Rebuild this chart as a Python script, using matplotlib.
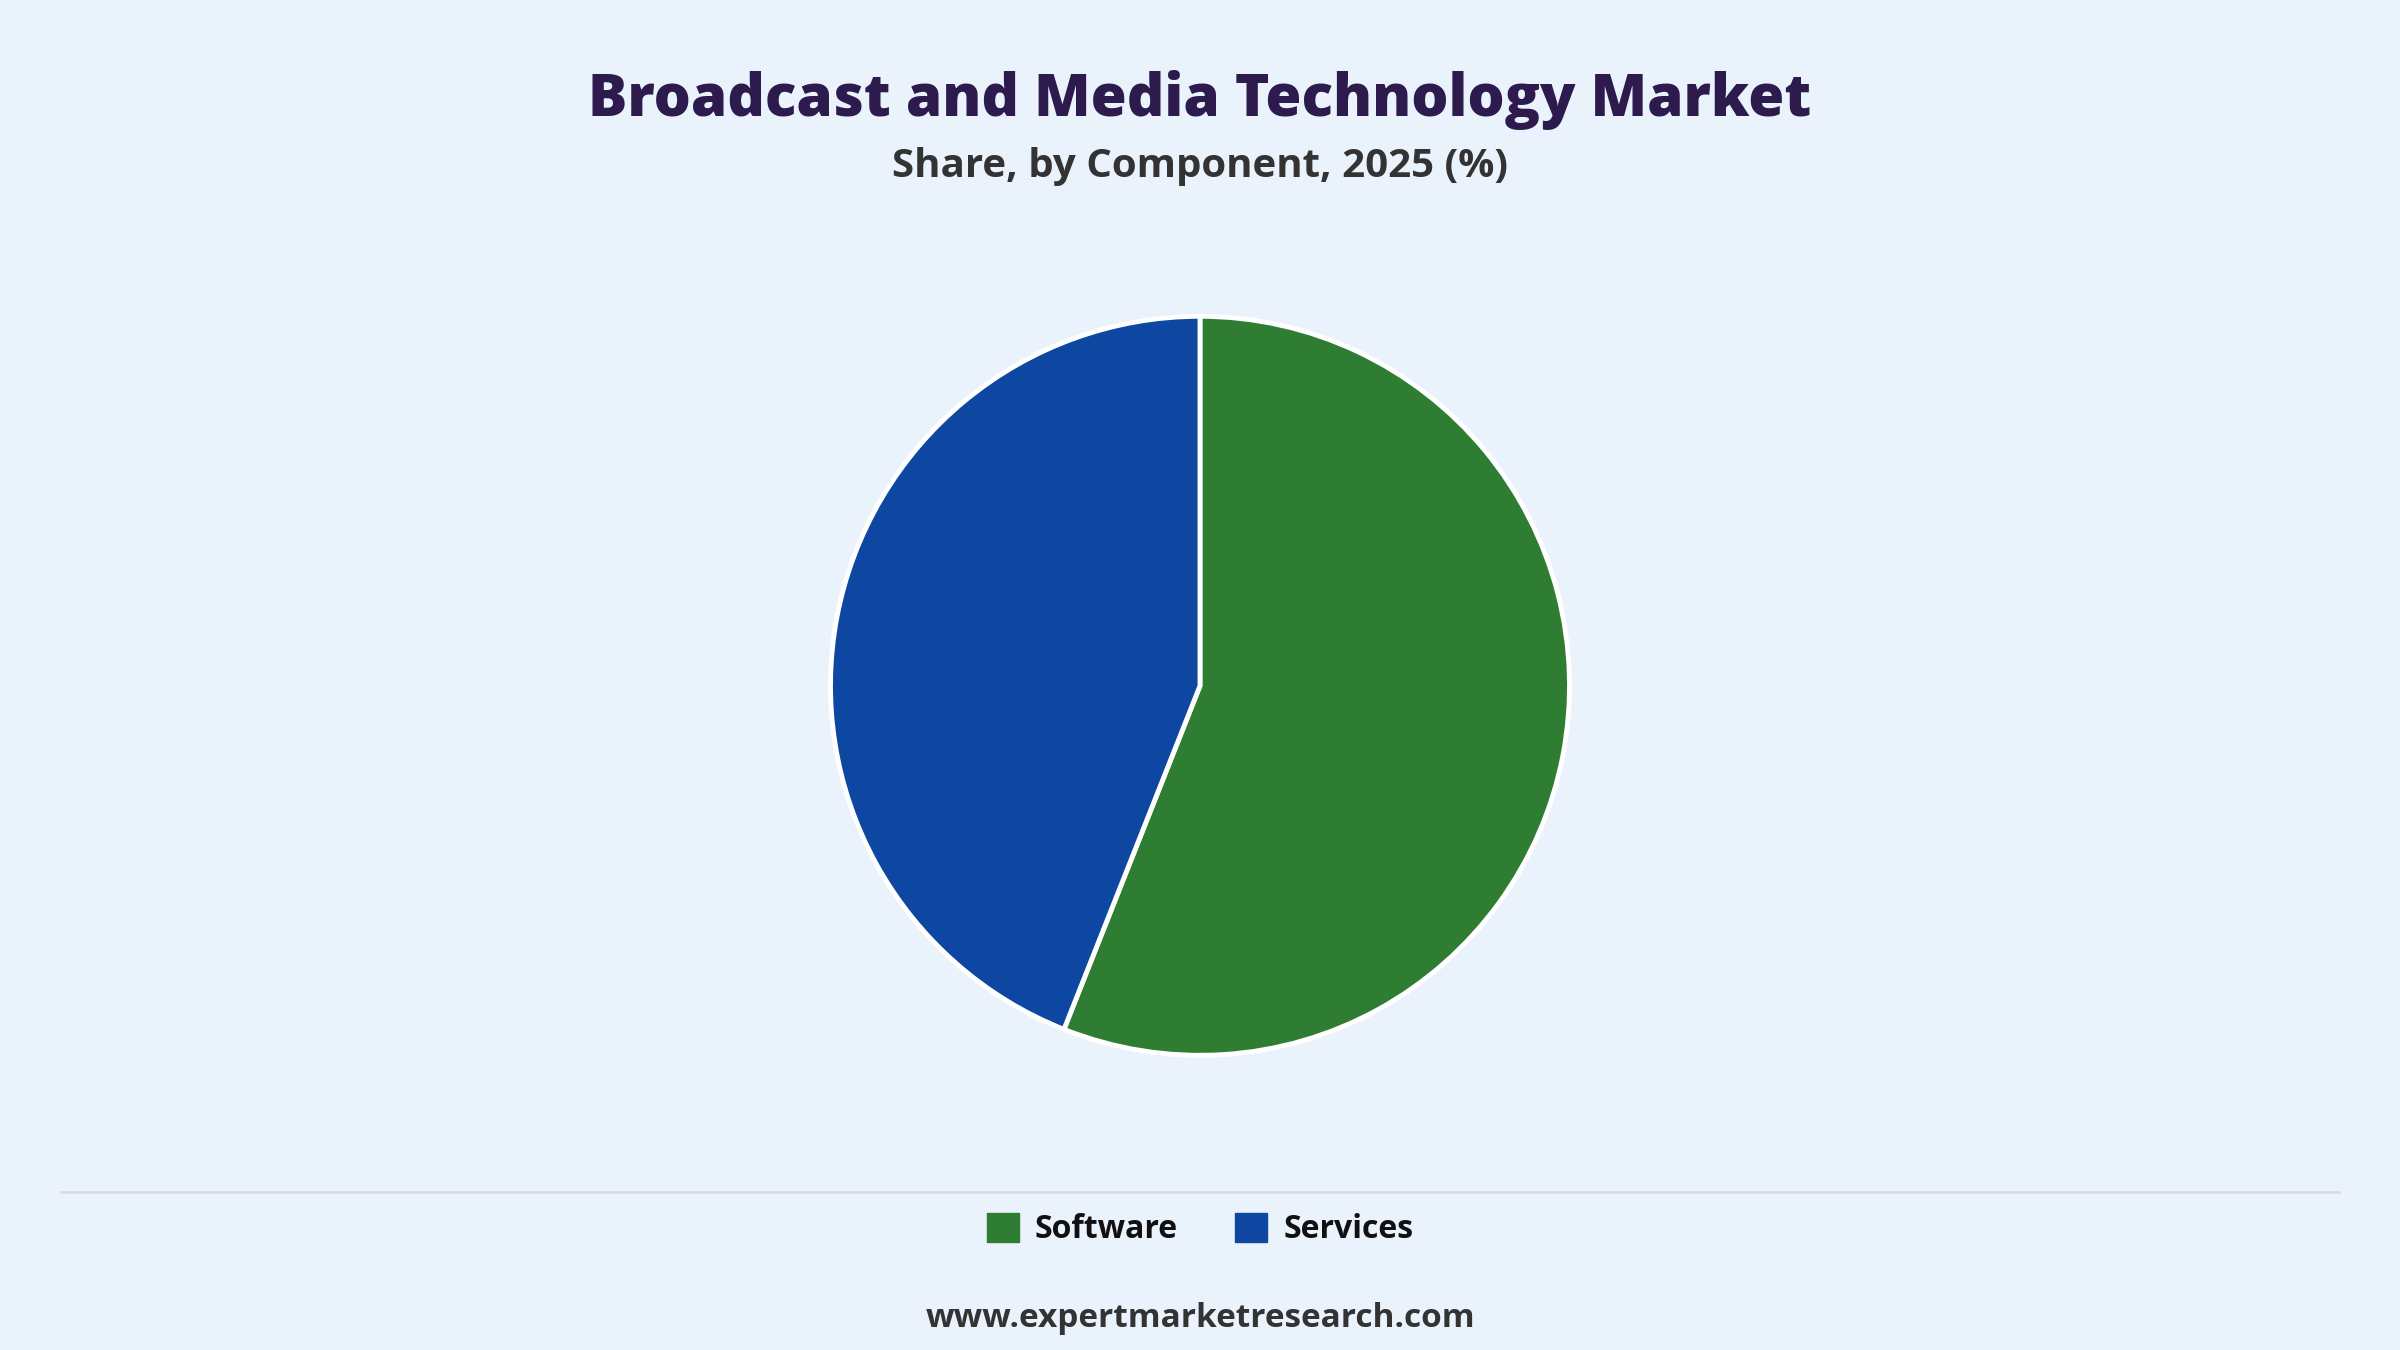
import matplotlib

matplotlib.use("Agg")

import matplotlib.pyplot as plt
from matplotlib.lines import Line2D
from matplotlib.patches import Patch

# Share by component, 2025 (%)
components = ["Software", "Services"]
shares = [56, 44]
colors = ["#2e7d32", "#0d47a1"]

bg = "#eaf2fc"
plt.rcParams["font.family"] = ["Open Sans", "DejaVu Sans"]

fig = plt.figure(figsize=(24, 13.5), dpi=100, facecolor=bg)

fig.text(0.5, 0.926, "Broadcast and Media Technology Market", ha="center", va="center",
         fontsize=42, fontweight=800, color="#2d1b4e")
fig.text(0.5, 0.877, "Share, by Component, 2025 (%)", ha="center", va="center",
         fontsize=29, fontweight="bold", color="#333333")

ax = fig.add_axes([0.5 - 0.1555, 0.492 - 0.2765, 0.311, 0.553])
ax.set_facecolor(bg)
ax.pie(shares, colors=colors, startangle=90, counterclock=False,
       wedgeprops=dict(edgecolor="white", linewidth=3.5))
ax.set_xlim(-1.01, 1.01)
ax.set_ylim(-1.01, 1.01)
ax.set_aspect("equal")

# separator line above legend
fig.add_artist(Line2D([0.0255, 0.9745], [0.117, 0.117], color="#d8dde3", linewidth=2))

handles = [Patch(facecolor=c, edgecolor=c, label=l) for c, l in zip(colors, components)]
leg = fig.legend(handles=handles, loc="center", bbox_to_anchor=(0.5, 0.089), ncol=2,
                 frameon=False, fontsize=23, handlelength=1.0, handleheight=1.0,
                 columnspacing=1.8, handletextpad=0.5)
for t in leg.get_texts():
    t.set_fontweight("bold")
    t.set_color("#111111")

fig.text(0.5, 0.023, "www.expertmarketresearch.com", ha="center", va="center",
         fontsize=24, fontweight="bold", color="#333333")

fig.savefig("out.png", dpi=100, facecolor=bg)
